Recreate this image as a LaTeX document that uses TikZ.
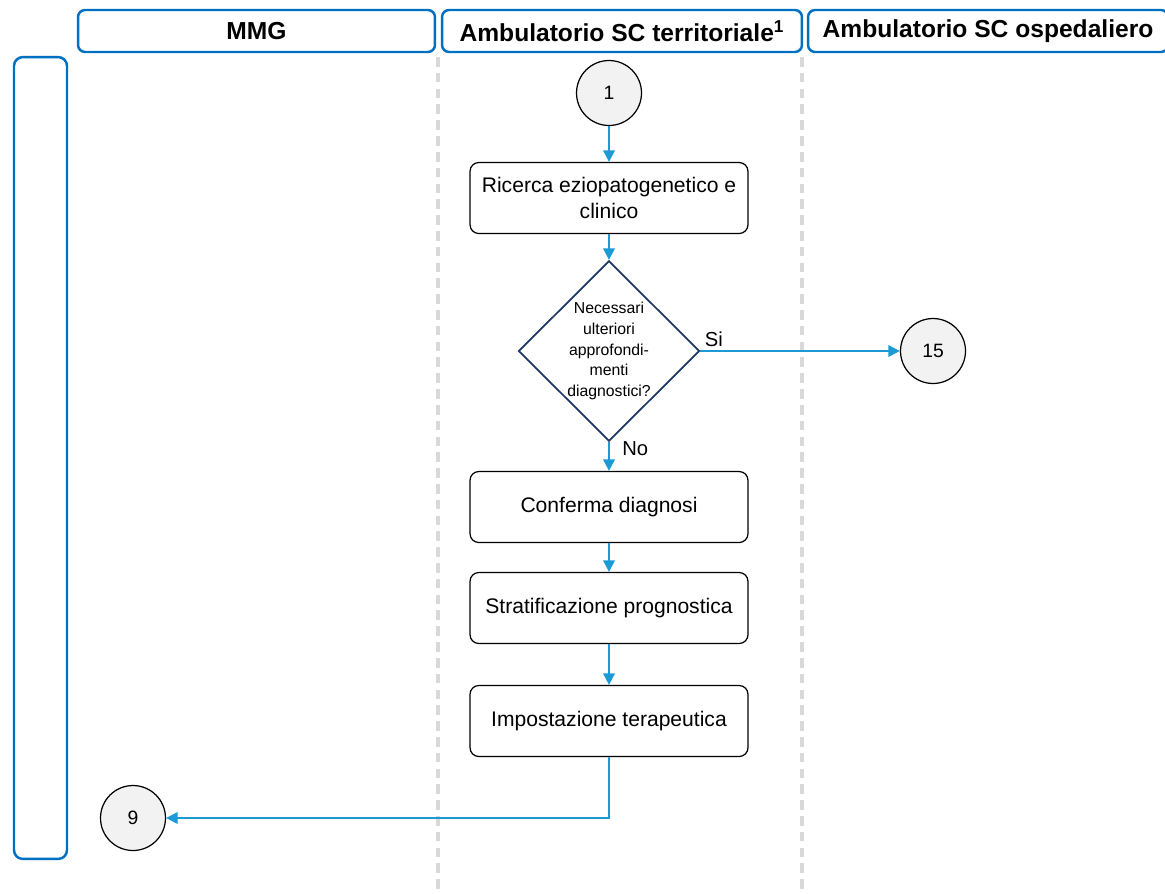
\documentclass[tikz,border=0pt]{standalone}
\usepackage{fontspec}
\setmainfont{Liberation Sans}
\setsansfont{Liberation Sans}
\usetikzlibrary{positioning, arrows.meta, shapes.geometric}
\definecolor{lanehead}{HTML}{0070C0}
\definecolor{flowblue}{HTML}{1B9AD6}
\definecolor{lanegray}{HTML}{D9D9D9}
\definecolor{connfill}{HTML}{F2F2F2}
\definecolor{decnavy}{HTML}{1F3864}
\tikzset{
  >={Triangle[length=2.3mm, width=2.3mm]},
  every node/.style={font=\sffamily},
  lanehdr/.style={
    rectangle, rounded corners=4pt, draw=lanehead, line width=1.4pt,
    minimum height=0.84cm, inner sep=0pt,
    font=\sffamily\bfseries\fontsize{14}{16}\selectfont
  },
  lanebox/.style={
    rectangle, rounded corners=5pt, draw=lanehead, line width=1.4pt
  },
  lanesep/.style={lanegray, line width=2.2pt, dash pattern=on 5.5pt off 3.5pt},
  stepbox/.style={
    rectangle, rounded corners=5pt, draw=black, fill=white, line width=0.7pt,
    minimum width=5.56cm, minimum height=1.42cm, align=center,
    font=\sffamily\fontsize{12}{14.8}\selectfont
  },
  decision/.style={
    diamond, draw=decnavy, fill=white, line width=1pt, inner sep=0pt,
    minimum width=3.62cm, minimum height=3.6cm, align=center,
    font=\sffamily\fontsize{9}{11.7}\selectfont
  },
  connector/.style={
    circle, draw=black, fill=connfill, line width=0.7pt, minimum size=1.3cm,
    inner sep=0pt, font=\sffamily\fontsize{11}{13}\selectfont
  },
  flow/.style={->, flowblue, line width=1.1pt},
  flowlabel/.style={text=black, font=\sffamily\fontsize{11.5}{13}\selectfont, inner sep=2pt}
}

\begin{document}
\begin{tikzpicture}[x=0.02cm, y=-0.02cm]
\useasboundingbox (0,0) rectangle (1165,893);

% ── Lane headers ─────────────────────────────────────────────────────────────
\node[lanehdr, minimum width=7.14cm] (mmg) at (256.5,31) {MMG};
\node[lanehdr, minimum width=7.2cm] (terr) at (622,31) {Ambulatorio SC territoriale\textsuperscript{1}};
\node[lanehdr, minimum width=7.2cm] (osp) at (988,31) {Ambulatorio SC ospedaliero};

% side box and lane separators
\node[lanebox, minimum width=1.06cm, minimum height=16.04cm] (side) at (40.5,458) {};
\draw[lanesep] (438,57) -- (438,893);
\draw[lanesep] (802,57) -- (802,893);

% ── Flow in the territorial lane ─────────────────────────────────────────────
\node[connector] (c1) at (609,93) {1};
\node[stepbox] (ricerca) at (609,198) {Ricerca eziopatogenetico e\\clinico};
\node[decision] (dec) at (609,351)
  {Necessari\\ulteriori\\approfondi-\\menti\\diagnostici?};
\node[connector] (c15) at (933,351) {15};
\node[stepbox] (conf) at (609,507) {Conferma diagnosi};
\node[stepbox] (strat) at (609,608) {Stratificazione prognostica};
\node[stepbox] (imp) at (609,721) {Impostazione terapeutica};
\node[connector] (c9) at (133,818) {9};

\draw[flow] (c1) -- (ricerca);
\draw[flow] (ricerca) -- (dec);
\draw[flow] (dec.east) -- (c15.west)
  node[pos=0, flowlabel, above right] {Si};
\draw[flow] (dec.south) -- (conf.north)
  node[pos=0, flowlabel, below right, xshift=5pt, yshift=3pt] {No};
\draw[flow] (conf) -- (strat);
\draw[flow] (strat) -- (imp);
\draw[flow] (imp.south) |- (c9.east);

\end{tikzpicture}
\end{document}
